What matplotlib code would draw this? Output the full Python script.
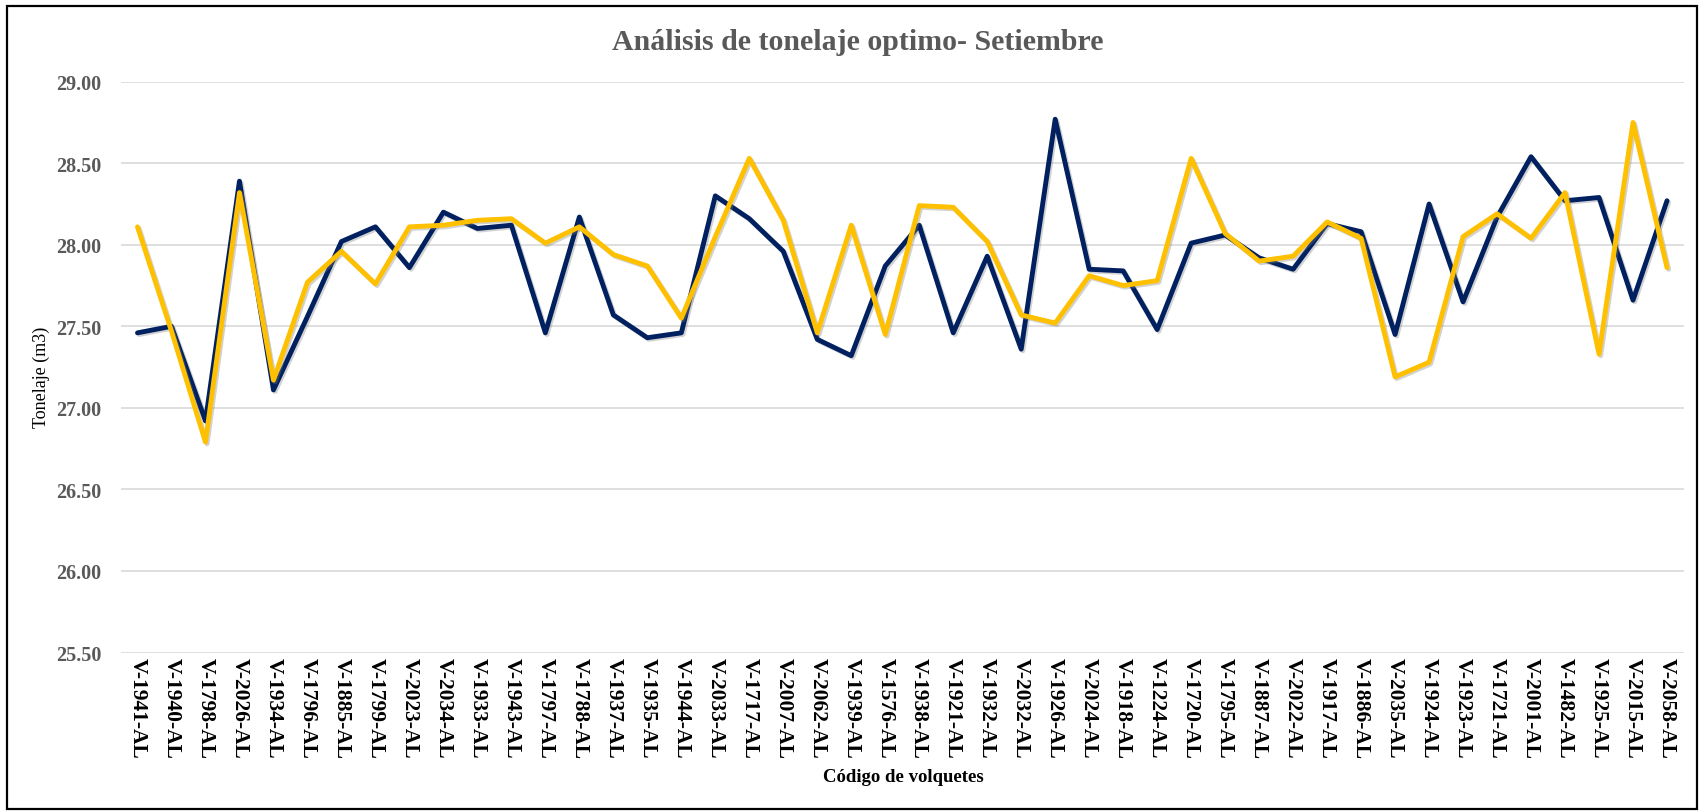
import matplotlib
matplotlib.use("Agg")
import matplotlib.pyplot as plt
import matplotlib.patheffects as pe
from matplotlib.patches import Rectangle

categories = ["V-1941-AL", "V-1940-AL", "V-1798-AL", "V-2026-AL", "V-1934-AL", "V-1796-AL",
              "V-1885-AL", "V-1799-AL", "V-2023-AL", "V-2034-AL", "V-1933-AL", "V-1943-AL",
              "V-1797-AL", "V-1788-AL", "V-1937-AL", "V-1935-AL", "V-1944-AL", "V-2033-AL",
              "V-1717-AL", "V-2007-AL", "V-2062-AL", "V-1939-AL", "V-1576-AL", "V-1938-AL",
              "V-1921-AL", "V-1932-AL", "V-2032-AL", "V-1926-AL", "V-2024-AL", "V-1918-AL",
              "V-1224-AL", "V-1720-AL", "V-1795-AL", "V-1887-AL", "V-2022-AL", "V-1917-AL",
              "V-1886-AL", "V-2035-AL", "V-1924-AL", "V-1923-AL", "V-1721-AL", "V-2001-AL",
              "V-1482-AL", "V-1925-AL", "V-2015-AL", "V-2058-AL"]

serie_azul = [27.46, 27.50, 26.92, 28.39, 27.11, 27.56, 28.02, 28.11, 27.86, 28.20,
              28.10, 28.12, 27.46, 28.17, 27.57, 27.43, 27.46, 28.30, 28.16, 27.96,
              27.42, 27.32, 27.87, 28.12, 27.46, 27.93, 27.36, 28.77, 27.85, 27.84,
              27.48, 28.01, 28.06, 27.92, 27.85, 28.13, 28.08, 27.45, 28.25, 27.65,
              28.17, 28.54, 28.27, 28.29, 27.66, 28.27]

serie_amarilla = [28.11, 27.47, 26.79, 28.32, 27.17, 27.77, 27.96, 27.76, 28.11, 28.12,
                  28.15, 28.16, 28.01, 28.11, 27.94, 27.87, 27.55, 28.05, 28.53, 28.15,
                  27.46, 28.12, 27.45, 28.24, 28.23, 28.02, 27.57, 27.52, 27.81, 27.75,
                  27.78, 28.53, 28.07, 27.90, 27.93, 28.14, 28.04, 27.19, 27.28, 28.05,
                  28.19, 28.04, 28.32, 27.33, 28.75, 27.86]

yticks = [25.50, 26.00, 26.50, 27.00, 27.50, 28.00, 28.50, 29.00]

W, H = 1702, 812
plt.rcParams['font.family'] = ['Liberation Serif', 'DejaVu Serif']

fig = plt.figure(figsize=(W / 100, H / 100), dpi=100)
fig.patch.set_facecolor('white')

left, right = 120.5, 1684.0
top, bottom = 82.7, 653.5
ax = fig.add_axes([left / W, 1 - bottom / H, (right - left) / W, (bottom - top) / H])

x = list(range(len(categories)))
shadow = [pe.SimpleLineShadow(offset=(1.2, -1.2), shadow_color='#7f7f7f', alpha=0.35), pe.Normal()]
ax.plot(x, serie_azul, color='#002060', linewidth=3.5, solid_joinstyle='round',
        solid_capstyle='round', path_effects=shadow, zorder=3)
ax.plot(x, serie_amarilla, color='#FFC000', linewidth=3.5, solid_joinstyle='round',
        solid_capstyle='round', path_effects=shadow, zorder=4)

ax.set_xlim(-0.5, len(categories) - 0.5)
ax.set_ylim(25.5, 29.0)
ax.set_yticks(yticks)
ax.set_yticklabels([f"{v:.2f}" for v in yticks], fontsize=14.5, fontweight='bold', color='#595959')
ax.set_xticks(x)
ax.set_xticklabels(categories, rotation=270, fontsize=15.5, fontweight='bold', color='black',
                   va='top', ha='center')
ax.tick_params(axis='both', length=0)
ax.tick_params(axis='y', pad=14)
ax.tick_params(axis='x', pad=3)
ax.grid(axis='y', color='#d9d9d9', linewidth=1.2)
ax.set_axisbelow(True)
for s in ax.spines.values():
    s.set_visible(False)

fig.text(858 / W, 1 - 43 / H, "Análisis de tonelaje optimo- Setiembre", ha='center', va='center',
         fontsize=21.5, fontweight='bold', color='#595959')
fig.text(903 / W, 1 - 778 / H, "Código de volquetes", ha='center', va='center',
         fontsize=13.5, fontweight='bold', color='black')
fig.text(41 / W, 1 - 377 / H, "Tonelaje (m3)", ha='center', va='center', rotation=90,
         fontsize=13, color='black')

fig.patches.append(Rectangle((6.5 / W, 1 - 810 / H), (1697 - 6.5) / W, (810 - 6.5) / H,
                             transform=fig.transFigure, fill=False, edgecolor='black',
                             linewidth=1.6))

fig.savefig("out.png", dpi=100, facecolor='white')
